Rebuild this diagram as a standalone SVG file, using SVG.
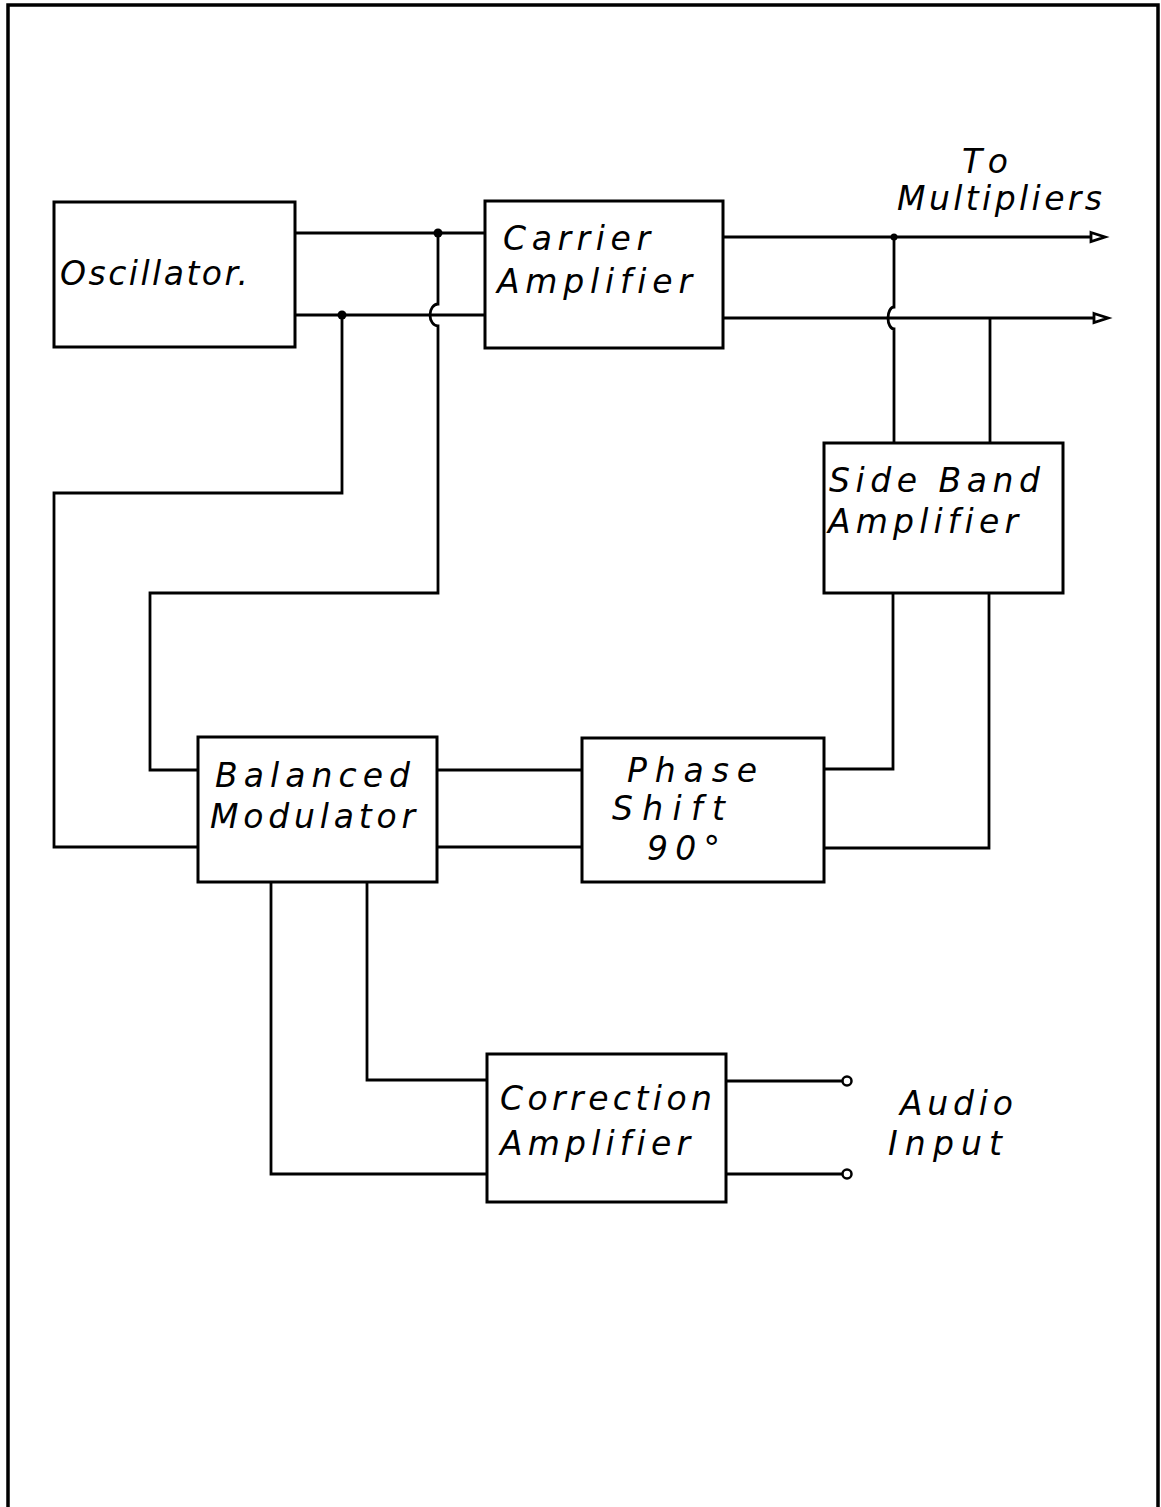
<svg xmlns="http://www.w3.org/2000/svg" width="1161" height="1507" viewBox="0 0 1161 1507">
<style>
.box{fill:#fff;stroke:#000;stroke-width:3}
.w{fill:none;stroke:#000;stroke-width:2.8;stroke-linejoin:miter}
.t{font-family:"DejaVu Sans","Liberation Sans",sans-serif;font-style:oblique;font-size:33px;fill:#000;font-variant-ligatures:none;font-feature-settings:"liga" 0}
.dot{fill:#000}
.term{fill:#fff;stroke:#000;stroke-width:2.5}
</style>
<defs>
<marker id="arr" viewBox="0 0 20 12" markerWidth="20" markerHeight="12" refX="1" refY="6" orient="auto" markerUnits="userSpaceOnUse" overflow="visible">
<path d="M1,1.5 L15,6 L1,10.5 Z" fill="#fff" stroke="#000" stroke-width="2.8"/>
</marker>
</defs>
<rect width="1161" height="1507" fill="#fff"/>
<path id="frame" d="M8,1507 V5 H1158 V1507" fill="none" stroke="#000" stroke-width="3.5"/>

<g id="connectors">
<path class="w" d="M295,233 H485"/>
<path class="w" d="M295,315 H485"/>
<path class="w" d="M438,233 V304 A8,11 0 0 0 438,326 V593 H150 V770 H198"/>
<path class="w" d="M342,315 V493 H54 V847 H198"/>
<path class="w" d="M723,237 H1091" marker-end="url(#arr)"/>
<path class="w" d="M723,318 H1094" marker-end="url(#arr)"/>
<path class="w" d="M894,237 V307 A6,11 0 0 0 894,329 V443"/>
<path class="w" d="M990,318 V443"/>
<path class="w" d="M893,593 V769 H824"/>
<path class="w" d="M989,593 V848 H824"/>
<path class="w" d="M437,770 H582"/>
<path class="w" d="M437,847 H582"/>
<path class="w" d="M271,882 V1174 H487"/>
<path class="w" d="M367,882 V1080 H487"/>
<path class="w" d="M726,1081 H842"/>
<path class="w" d="M726,1174 H842"/>
<circle class="dot" cx="438" cy="233" r="4.5"/>
<circle class="dot" cx="342" cy="315" r="4.5"/>
<circle class="dot" cx="894" cy="237" r="3.5"/>
<circle class="term" cx="847" cy="1081" r="4.5"/>
<circle class="term" cx="847" cy="1174" r="4.5"/>
</g>

<g id="oscillator">
<rect class="box" x="54" y="202" width="241" height="145"/>
<text class="t" x="60" y="285" textLength="188" lengthAdjust="spacing">Oscillator.</text>
</g>

<g id="carrier-amplifier">
<rect class="box" x="485" y="201" width="238" height="147"/>
<text class="t" x="503" y="250" textLength="147" lengthAdjust="spacing">Carrier</text>
<text class="t" x="497" y="293" textLength="195" lengthAdjust="spacing">Amplifier</text>
</g>

<g id="to-multipliers">
<text class="t" x="962" y="173" textLength="46" lengthAdjust="spacing">To</text>
<text class="t" x="897" y="210" textLength="205" lengthAdjust="spacing">Multipliers</text>
</g>

<g id="side-band-amplifier">
<rect class="box" x="824" y="443" width="239" height="150"/>
<text class="t" x="829" y="492" textLength="211" lengthAdjust="spacing">Side Band</text>
<text class="t" x="828" y="533" textLength="190" lengthAdjust="spacing">Amplifier</text>
</g>

<g id="balanced-modulator">
<rect class="box" x="198" y="737" width="239" height="145"/>
<text class="t" x="215" y="787" textLength="195" lengthAdjust="spacing">Balanced</text>
<text class="t" x="210" y="828" textLength="205" lengthAdjust="spacing">Modulator</text>
</g>

<g id="phase-shift">
<rect class="box" x="582" y="738" width="242" height="144"/>
<text class="t" x="627" y="782" textLength="130" lengthAdjust="spacing">Phase</text>
<text class="t" x="612" y="820" textLength="113" lengthAdjust="spacing">Shift</text>
<text class="t" x="647" y="860" textLength="73" lengthAdjust="spacing">90°</text>
</g>

<g id="correction-amplifier">
<rect class="box" x="487" y="1054" width="239" height="148"/>
<text class="t" x="500" y="1110" textLength="212" lengthAdjust="spacing">Correction</text>
<text class="t" x="500" y="1155" textLength="190" lengthAdjust="spacing">Amplifier</text>
</g>

<g id="audio-input">
<text class="t" x="900" y="1115" textLength="113" lengthAdjust="spacing">Audio</text>
<text class="t" x="888" y="1155" textLength="114" lengthAdjust="spacing">Input</text>
</g>
</svg>
